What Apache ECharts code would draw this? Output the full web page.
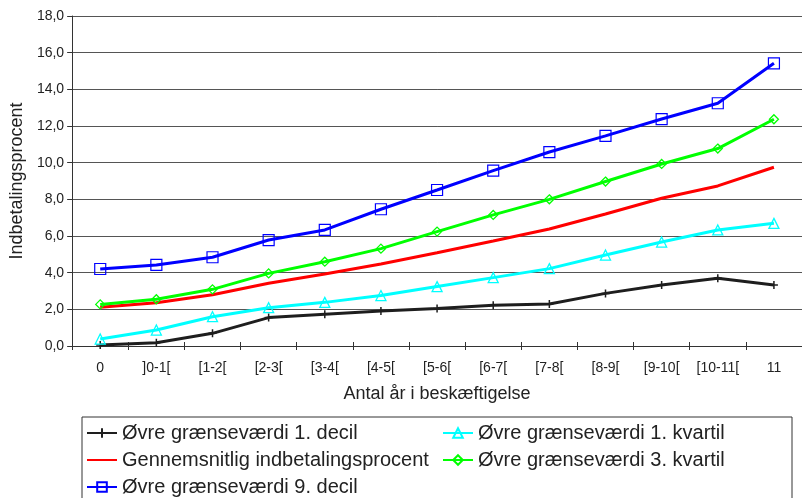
<!DOCTYPE html>
<html>
<head>
<meta charset="utf-8">
<script src="https://cdn.jsdelivr.net/npm/echarts@6/dist/echarts.min.js"></script>
<style>
  html, body { margin: 0; padding: 0; background: #fff; }
  #chart { width: 802px; height: 498px; }
</style>
</head>
<body>
<div id="chart"></div>
<script>
// Categories: years of employment
var categories = ['0', ']0-1[', '[1-2[', '[2-3[', '[3-4[', '[4-5[', '[5-6[', '[6-7[', '[7-8[', '[8-9[', '[9-10[', '[10-11[', '11'];

// Payment percentages per series
var decil1   = [0.05, 0.18, 0.69, 1.55, 1.73, 1.91, 2.05, 2.22, 2.29, 2.87, 3.33, 3.69, 3.33];
var kvartil1 = [0.38, 0.87, 1.60, 2.09, 2.38, 2.75, 3.24, 3.73, 4.22, 4.96, 5.67, 6.33, 6.69];
var mean     = [2.11, 2.36, 2.80, 3.42, 3.93, 4.47, 5.09, 5.73, 6.38, 7.20, 8.06, 8.73, 9.75];
var kvartil3 = [2.27, 2.55, 3.09, 3.96, 4.60, 5.31, 6.24, 7.15, 8.00, 8.97, 9.93, 10.77, 12.37];
var decil9   = [4.20, 4.42, 4.84, 5.78, 6.33, 7.46, 8.51, 9.57, 10.58, 11.46, 12.38, 13.24, 15.42];

var seriesNames = [
  'Øvre grænseværdi 1. decil',
  'Øvre grænseværdi 1. kvartil',
  'Gennemsnitlig indbetalingsprocent',
  'Øvre grænseværdi 3. kvartil',
  'Øvre grænseværdi 9. decil'
];

var FONT = '"Liberation Sans", Arial, sans-serif';
var TEXT = '#222';

function lineSeries(name, data, color, symbol, size, borderWidth) {
  return {
    name: name,
    type: 'line',
    data: data,
    xAxisIndex: 0,
    yAxisIndex: 0,
    symbol: symbol,
    symbolSize: size,
    showSymbol: symbol !== 'none',
    lineStyle: { color: color, width: 3 },
    itemStyle: { color: 'rgba(255,255,255,0)', borderColor: color, borderWidth: borderWidth },
    emphasis: { disabled: true },
    animation: false,
    z: 3
  };
}

var plusPath = 'path://M0,5L10,5M5,0L5,10';

var chart = echarts.init(document.getElementById('chart'), null, { renderer: 'canvas' });

chart.setOption({
  backgroundColor: '#fff',
  animation: false,
  textStyle: { fontFamily: FONT },
  grid: { left: 69, top: 16, width: 738, height: 330, containLabel: false },
  xAxis: [
    {
      type: 'category',
      data: categories,
      boundaryGap: true,
      name: 'Antal år i beskæftigelse',
      nameLocation: 'middle',
      nameGap: 39,
      nameTextStyle: { color: TEXT, fontSize: 18, fontFamily: FONT },
      axisLine: { lineStyle: { color: '#333', width: 1 } },
      axisTick: { show: true, length: 4, inside: false, lineStyle: { color: '#333' } },
      axisLabel: { color: TEXT, fontSize: 14, fontFamily: FONT, margin: 15, interval: 0 },
      splitLine: { show: false }
    },
    {
      // second copy of the category axis: inward half of the crossing ticks
      type: 'category',
      data: categories,
      position: 'bottom',
      boundaryGap: true,
      axisLine: { show: false },
      axisTick: { show: true, length: 4, inside: true, lineStyle: { color: '#333' } },
      axisLabel: { show: false },
      splitLine: { show: false }
    }
  ],
  yAxis: {
    type: 'value',
    min: 0,
    max: 18,
    interval: 2,
    name: 'Indbetalingsprocent',
    nameLocation: 'middle',
    nameGap: 45,
    nameRotate: 90,
    nameTextStyle: { color: TEXT, fontSize: 18, fontFamily: FONT },
    axisLine: { show: true, lineStyle: { color: '#333', width: 1 } },
    axisTick: { show: true, length: 5, lineStyle: { color: '#333' } },
    axisLabel: {
      color: TEXT, fontSize: 14, fontFamily: FONT, margin: 8,
      formatter: function (v) { return v.toFixed(1).replace('.', ','); }
    },
    splitLine: { show: true, lineStyle: { color: '#555', width: 1 } }
  },
  legend: [
    {
      data: [seriesNames[0], seriesNames[2], seriesNames[4]],
      orient: 'vertical',
      left: 86,
      top: 422,
      padding: 0,
      itemWidth: 30,
      itemHeight: 12,
      itemGap: 5,
      textStyle: { color: TEXT, fontSize: 20, fontFamily: FONT, lineHeight: 22 },
      selectedMode: false
    },
    {
      data: [seriesNames[1], seriesNames[3]],
      orient: 'vertical',
      left: 442,
      top: 422,
      padding: 0,
      itemWidth: 30,
      itemHeight: 12,
      itemGap: 5,
      textStyle: { color: TEXT, fontSize: 20, fontFamily: FONT, lineHeight: 22 },
      selectedMode: false
    }
  ],
  graphic: [
    {
      type: 'rect',
      shape: { x: 82, y: 417, width: 710, height: 100 },
      style: { fill: 'none', stroke: '#333', lineWidth: 1 },
      silent: true,
      z: 0
    }
  ],
  series: [
    lineSeries(seriesNames[0], decil1, '#1e1e1e', plusPath, 8, 1.5),
    lineSeries(seriesNames[1], kvartil1, '#00ffff', 'triangle', 10, 1.3),
    lineSeries(seriesNames[2], mean, '#ff0000', 'none', 0, 0),
    lineSeries(seriesNames[3], kvartil3, '#00ff00', 'diamond', 9, 1.3),
    lineSeries(seriesNames[4], decil9, '#0000ff', 'rect', 11, 1.2)
  ]
});
</script>
</body>
</html>
